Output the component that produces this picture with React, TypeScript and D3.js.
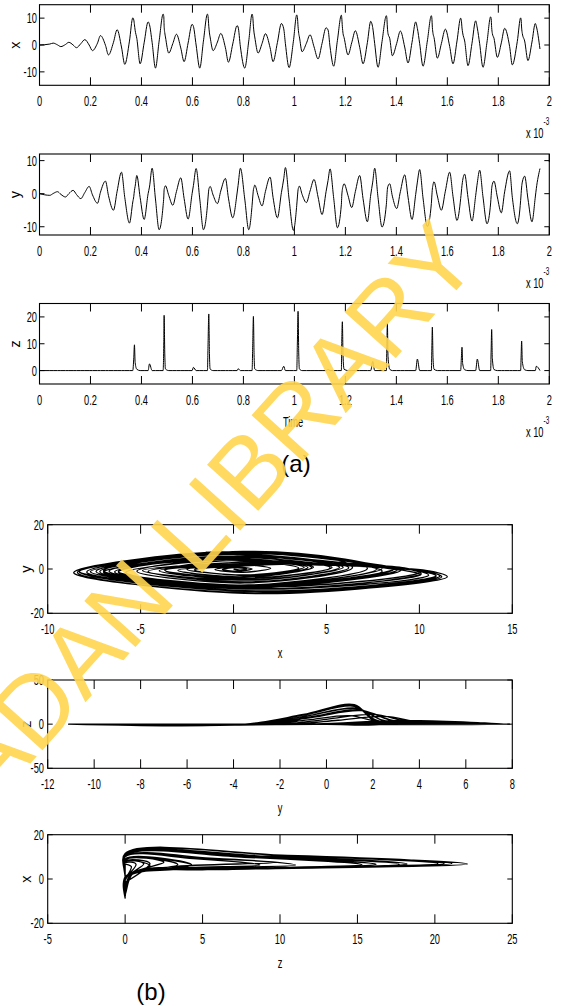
import React from 'react';
import * as d3 from 'd3';

// ---- time samples (units of 1e-3 s) with the state values ----
const sampleT = [
  0, 0.0405, 0.0536, 0.0706, 0.0837, 0.102, 0.115, 0.132, 0.1451, 0.1621,
  0.1778, 0.1948, 0.2078, 0.2275, 0.2392, 0.2588, 0.2706, 0.2902, 0.3046, 0.3216,
  0.3346, 0.3529, 0.366, 0.3699, 0.3725, 0.3752, 0.3817, 0.3948, 0.4105, 0.4261,
  0.4314, 0.4418, 0.4549, 0.4693, 0.485, 0.4876, 0.4889, 0.4915, 0.4941, 0.5072,
  0.5229, 0.5373, 0.5542, 0.5673, 0.583, 0.5987, 0.6039, 0.6144, 0.6288, 0.6431,
  0.6588, 0.6614, 0.6641, 0.6667, 0.6693, 0.681, 0.698, 0.7111, 0.7294, 0.7412,
  0.7582, 0.7752, 0.7791, 0.7882, 0.8052, 0.8209, 0.834, 0.8366, 0.8392, 0.8418,
  0.8444, 0.8575, 0.8732, 0.8863, 0.9046, 0.9163, 0.9333, 0.949, 0.9582, 0.9647,
  0.9791, 0.9961, 1.0092, 1.0118, 1.0144, 1.017, 1.0196, 1.0301, 1.0471, 1.0614,
  1.0771, 1.0928, 1.1085, 1.1242, 1.132, 1.1399, 1.1542, 1.1686, 1.1843, 1.1856,
  1.1882, 1.1908, 1.1948, 1.2105, 1.2248, 1.2392, 1.2562, 1.2693, 1.2863, 1.2994,
  1.3072, 1.315, 1.3281, 1.3438, 1.3608, 1.3627, 1.3647, 1.3673, 1.3739, 1.3843,
  1.4013, 1.4157, 1.4327, 1.4458, 1.4614, 1.4758, 1.4824, 1.4915, 1.5046, 1.5216,
  1.5373, 1.5392, 1.5412, 1.5438, 1.5477, 1.5608, 1.5765, 1.5922, 1.6092, 1.6222,
  1.6379, 1.6523, 1.6549, 1.6575, 1.6601, 1.668, 1.6811, 1.6967, 1.7111, 1.7176,
  1.7268, 1.7399, 1.7556, 1.7699, 1.7719, 1.7739, 1.7765, 1.783, 1.7961, 1.8118,
  1.8248, 1.8444, 1.8549, 1.8745, 1.8876, 1.8895, 1.8915, 1.8941, 1.9033, 1.9163,
  1.932, 1.9451, 1.949, 1.9634,
];

const sampleX = [
  0, 0.35, 0.7, 0.05, -0.6, 0.2, 1.0, 0, -1.0, 0.5,
  2.0, 0, -2.1, 0.7, 3.5, -0.1, -3.7, 1.0, 5.7, -0.75,
  -7.2, 1.45, 10.1, 9.3, 7.5, 5.5, 2.5, -7.0, 0.8, 8.6,
  7.6, 1.0, -8.6, 1.45, 11.5, 10.6, 7.0, 4.5, 3.0, -3.0,
  0.5, 4.0, -1.1, -6.2, 0.75, 7.7, 6.9, 0, -8.6, 1.45,
  11.5, 10.6, 7.0, 4.5, 3.0, -2.1, 1.1, 4.3, -1.05, -6.4,
  0.4, 7.2, 6.7, -0.7, -8.6, 1.45, 11.5, 10.6, 7.0, 4.5,
  3.0, -3.0, 0.6, 4.2, -1.0, -6.2, 0.9, 8.0, 6.0, 0.5,
  -8.4, 1.4, 11.2, 10.3, 6.8, 4.3, 3.0, -2.5, 0.65, 3.8,
  -0.7, -5.2, 0.6, 6.4, 5.6, -0.75, -7.9, 1.6, 11.1, 10.3,
  6.8, 4.3, 2.8, -3.7, 0.8, 5.3, -0.85, -7.0, 0.9, 8.8,
  6.5, 0.5, -8.3, 1.3, 10.9, 10.1, 6.7, 4.2, 2.5, -4.0,
  0.6, 5.2, -0.75, -6.7, 0.95, 8.6, 6.2, 0.5, -7.9, 1.5,
  10.9, 10.1, 6.6, 4.3, 2.8, -4.9, 0.5, 5.9, -0.55, -7.0,
  1.5, 10.0, 9.2, 6.3, 4.5, 1.5, -7.7, 0.65, 9.0, 6.3,
  0.5, -8.3, 1.1, 10.5, 9.8, 6.5, 4.3, 2.5, -4.6, 0.8,
  6.2, -0.6, -7.4, 1.35, 10.1, 9.4, 6.3, 4.3, 1.5, -5.8,
  1.1, 8.0, 7.0, -1.5,
];

const sampleY = [
  0, -0.5, 0.05, 0.6, -0.2, -1.0, 0, 1.0, -0.25, -1.5,
  0.35, 2.2, -0.35, -2.9, 0.45, 3.8, -0.6, -5.0, 0.75, 6.5,
  -1.2, -8.9, -2.5, -0.8, 1.0, 2.2, 5.5, -1.15, -7.8, 0,
  2.0, 7.7, -1.6, -10.9, -3.5, -1.0, 1.2, 2.0, 2.4, -0.55,
  -3.5, 0.65, 4.8, -1.45, -7.7, 0, 2.5, 7.6, -1.65, -10.9,
  -3.5, -1.0, 1.2, 1.9, 2.2, -0.4, -3.0, 0.8, 4.6, -1.35,
  -7.3, 0.2, 2.5, 7.7, -1.6, -10.9, -3.5, -1.0, 1.2, 2.0,
  2.6, -0.55, -3.7, 0.65, 5.0, -1.15, -7.3, 0.3, 4.5, 7.9,
  -1.6, -11.1, -3.5, -1.0, 1.2, 1.9, 2.3, -0.2, -2.7, 0.8,
  4.3, -1.0, -6.3, 0.6, 4.0, 7.5, -1.4, -10.3, -3.2, -0.9,
  1.3, 2.3, 3.0, -0.6, -4.2, 0.65, 5.5, -1.5, -8.5, -0.4,
  3.5, 7.7, -1.2, -10.1, -3.2, -0.9, 1.3, 2.3, 3.0, -0.75,
  -4.5, 0.6, 5.7, -1.05, -7.8, -0.25, 3.5, 7.3, -1.3, -9.9,
  -3.0, -0.7, 1.4, 2.7, 3.6, -0.7, -5.0, 0.75, 6.5, -0.8,
  -8.1, -1.5, 0.5, 2.5, 4.0, 5.9, -1.2, -8.3, -0.6, 3.3,
  7.1, -1.0, -9.1, -2.8, -0.6, 1.5, 2.8, 3.8, -1.0, -5.8,
  0.55, 6.9, -1.1, -9.1, -2.0, 0, 2.0, 3.5, 5.3, -1.6,
  -8.5, -1.0, 1.5, 7.6,
];

const sampleZ = [
  0, 0, 0, 0, 0, 0, 0, 0, 0, 0,
  0, 0, 0, 0, 0, 0, 0, 0, 0, 0,
  0, 0, 0, 4.8, 9.6, 3.0, 0.5, 0, 0, 0,
  2.5, 0, 0, 0, 0, 10.3, 20.6, 6.2, 0.6, 0,
  0, 0, 0, 0, 0, 0, 1.2, 0, 0, 0,
  0, 10.5, 21.1, 6.3, 0.6, 0, 0, 0, 0, 0,
  0, 0, 0.7, 0, 0, 0, 0, 10.1, 20.2, 6.0,
  0.6, 0, 0, 0, 0, 0, 0, 0, 1.6, 0,
  0, 0, 0, 11.0, 22.1, 6.6, 0.6, 0, 0, 0,
  0, 0, 0, 0, 0.4, 0, 0, 0, 0, 9.1,
  18.2, 5.5, 0.5, 0, 0, 0, 0, 0, 0, 0,
  3.4, 0, 0, 0, 0, 8.9, 17.7, 5.3, 0.5, 0,
  0, 0, 0, 0, 0, 0, 4.3, 0, 0, 0,
  0, 8.1, 16.2, 4.9, 0.5, 0, 0, 0, 0, 0,
  0, 0, 4.4, 8.7, 2.6, 0.3, 0, 0, 0, 4.3,
  0, 0, 0, 0, 7.7, 15.3, 4.6, 0.4, 0, 0,
  0, 0, 0, 0, 0, 5.5, 11.0, 3.3, 0.3, 0,
  0, 0, 1.6, 0,
];

// ---- axis ticks ----
const timeTicks = [0, 0.2, 0.4, 0.6, 0.8, 1, 1.2, 1.4, 1.6, 1.8, 2];
const timeTickLabels = ['0', '0.2', '0.4', '0.6', '0.8', '1', '1.2', '1.4', '1.6', '1.8', '2'];
const xSeriesTicks = [-10, 0, 10];
const ySeriesTicks = [-10, 0, 10];
const zSeriesTicks = [0, 10, 20];
const xyHTicks = [-10, -5, 0, 5, 10, 15];
const xyVTicks = [-20, 0, 20];
const yzHTicks = [-12, -10, -8, -6, -4, -2, 0, 2, 4, 6, 8];
const yzVTicks = [-50, 0, 50];
const zxHTicks = [-5, 0, 5, 10, 15, 20, 25];
const zxVTicks = [-20, 0, 20];

const FONT = "'Liberation Sans', Arial, Helvetica, sans-serif";
const TS = 14.5; // tick font size
const SX = 0.64; // horizontal squeeze of the original figure

const idx = sampleT.map((_, i) => i);

function Txt({ x, y, anchor = 'middle', size = TS, sx = SX, children }: any) {
  return (
    <text
      transform={`translate(${x},${y}) scale(${sx},1)`}
      textAnchor={anchor}
      fontSize={size}
      fontFamily={FONT}
      fill="#000"
    >
      {children}
    </text>
  );
}

function VTxt({ x, y, children }: any) {
  return (
    <text
      transform={`translate(${x},${y}) rotate(-90)`}
      textAnchor="middle"
      fontSize={TS}
      fontFamily={FONT}
      fill="#000"
    >
      {children}
    </text>
  );
}

type PanelProps = {
  id: string;
  left: number;
  right: number;
  top: number;
  bottom: number;
  hDomain: [number, number];
  vDomain: [number, number];
  hTicks: number[];
  hLabels: string[];
  vTicks: number[];
  hTickLen: number;
  vTickLen: number;
  labelGapH: number;
  vLabelRight: number;
  path: (hs: d3.ScaleLinear<number, number>, vs: d3.ScaleLinear<number, number>) => string;
  strokeWidth: number;
};

function Panel(p: PanelProps) {
  const hs = d3.scaleLinear().domain(p.hDomain).range([p.left, p.right]);
  const vs = d3.scaleLinear().domain(p.vDomain).range([p.bottom, p.top]);
  const d = p.path(hs, vs);
  return (
    <g>
      <defs>
        <clipPath id={p.id}>
          <rect x={p.left} y={p.top} width={p.right - p.left} height={p.bottom - p.top} />
        </clipPath>
      </defs>
      <path d={d} fill="none" stroke="#000" strokeWidth={p.strokeWidth} strokeLinejoin="round" clipPath={`url(#${p.id})`} />
      <rect x={p.left} y={p.top} width={p.right - p.left} height={p.bottom - p.top} fill="none" stroke="#000" strokeWidth={1.1} />
      {p.hTicks.map((t, i) => (
        <g key={'h' + i}>
          <line x1={hs(t)} x2={hs(t)} y1={p.bottom} y2={p.bottom - p.hTickLen} stroke="#000" strokeWidth={1} />
          <line x1={hs(t)} x2={hs(t)} y1={p.top} y2={p.top + p.hTickLen} stroke="#000" strokeWidth={1} />
          <Txt x={hs(t)} y={p.bottom + p.labelGapH}>{p.hLabels[i]}</Txt>
        </g>
      ))}
      {p.vTicks.map((t, i) => (
        <g key={'v' + i}>
          <line x1={p.left} x2={p.left + p.vTickLen} y1={vs(t)} y2={vs(t)} stroke="#000" strokeWidth={1} />
          <line x1={p.right} x2={p.right - p.vTickLen} y1={vs(t)} y2={vs(t)} stroke="#000" strokeWidth={1} />
          <Txt x={p.vLabelRight} y={vs(t) + 5} anchor="end">{String(t)}</Txt>
        </g>
      ))}
    </g>
  );
}

function timePath(series: number[]) {
  return (hs: any, vs: any) =>
    d3.line<number>()
      .x((i) => hs(sampleT[i]))
      .y((i) => vs(series[i]))
      .curve(d3.curveMonotoneX)(idx) || '';
}

function phasePath(hSeries: number[], vSeries: number[]) {
  return (hs: any, vs: any) =>
    d3.line<number>()
      .x((i) => hs(hSeries[i]))
      .y((i) => vs(vSeries[i]))
      .curve(d3.curveCatmullRom.alpha(0.5))(idx) || '';
}

export default function App() {
  const aL = 39.5, aR = 549.3;
  const bL = 47.7, bR = 512.3;
  const tsCommon = {
    left: aL, right: aR, hDomain: [0, 2] as [number, number], hTicks: timeTicks, hLabels: timeTickLabels,
    hTickLen: 8, vTickLen: 5, labelGapH: 20.5, vLabelRight: 37, strokeWidth: 1,
  };
  const phCommon = { left: bL, right: bR, hTickLen: 9, vTickLen: 5, labelGapH: 21, vLabelRight: 44, strokeWidth: 1.3 };
  const panelsA = [
    { id: 'ca1', top: 4.7, bottom: 85.3, vDomain: [-15, 15] as [number, number], vTicks: xSeriesTicks, series: sampleX, title: 'x' },
    { id: 'ca2', top: 154, bottom: 235, vDomain: [-12.5, 12] as [number, number], vTicks: ySeriesTicks, series: sampleY, title: 'y' },
    { id: 'ca3', top: 303.5, bottom: 384, vDomain: [-5, 25] as [number, number], vTicks: zSeriesTicks, series: sampleZ, title: 'z' },
  ];
  const panelsB = [
    { id: 'cb1', top: 524.7, bottom: 613.3, hDomain: [-10, 15] as [number, number], vDomain: [-20, 20] as [number, number], hTicks: xyHTicks, vTicks: xyVTicks, h: sampleX, v: sampleY, hTitle: 'x', vTitle: 'y' },
    { id: 'cb2', top: 680, bottom: 768.3, hDomain: [-12, 8] as [number, number], vDomain: [-50, 50] as [number, number], hTicks: yzHTicks, vTicks: yzVTicks, h: sampleY, v: sampleZ, hTitle: 'y', vTitle: 'z' },
    { id: 'cb3', top: 834.7, bottom: 923.3, hDomain: [-5, 25] as [number, number], vDomain: [-20, 20] as [number, number], hTicks: zxHTicks, vTicks: zxVTicks, h: sampleZ, v: sampleX, hTitle: 'z', vTitle: 'x' },
  ];

  return (
    <svg width={567} height={1006} style={{ position: 'absolute', left: 0, top: 0, background: '#fff' }}>
      <rect x={0} y={0} width={567} height={1006} fill="#fff" />
      {panelsA.map((p) => (
        <g key={p.id}>
          <Panel {...tsCommon} id={p.id} top={p.top} bottom={p.bottom} vDomain={p.vDomain} vTicks={p.vTicks} path={timePath(p.series)} />
          <VTxt x={20} y={(p.top + p.bottom) / 2}>{p.title}</VTxt>
          <Txt x={526} y={p.bottom + 53} anchor="start">x 10</Txt>
          <Txt x={543.5} y={p.bottom + 40} anchor="start" size={10}>-3</Txt>
        </g>
      ))}
      <Txt x={293} y={427}>Time</Txt>
      <text x={296} y={472} textAnchor="middle" fontSize={24} fontFamily={FONT}>(a)</text>

      {panelsB.map((p) => (
        <g key={p.id}>
          <Panel {...phCommon} id={p.id} top={p.top} bottom={p.bottom} hDomain={p.hDomain} vDomain={p.vDomain}
            hTicks={p.hTicks} hLabels={p.hTicks.map(String)} vTicks={p.vTicks} path={phasePath(p.h, p.v)} />
          <VTxt x={31} y={(p.top + p.bottom) / 2}>{p.vTitle}</VTxt>
          <Txt x={280} y={p.bottom + 45}>{p.hTitle}</Txt>
        </g>
      ))}
      <text x={151} y={1000} textAnchor="middle" fontSize={24} fontFamily={FONT}>(b)</text>

      <text
        transform="translate(482,262) rotate(-48)"
        textAnchor="end"
        fontSize={100}
        fontFamily={FONT}
        fill="#FFD54F"
        opacity={0.9}
      >
        IBADAN LIBRARY
      </text>
    </svg>
  );
}
